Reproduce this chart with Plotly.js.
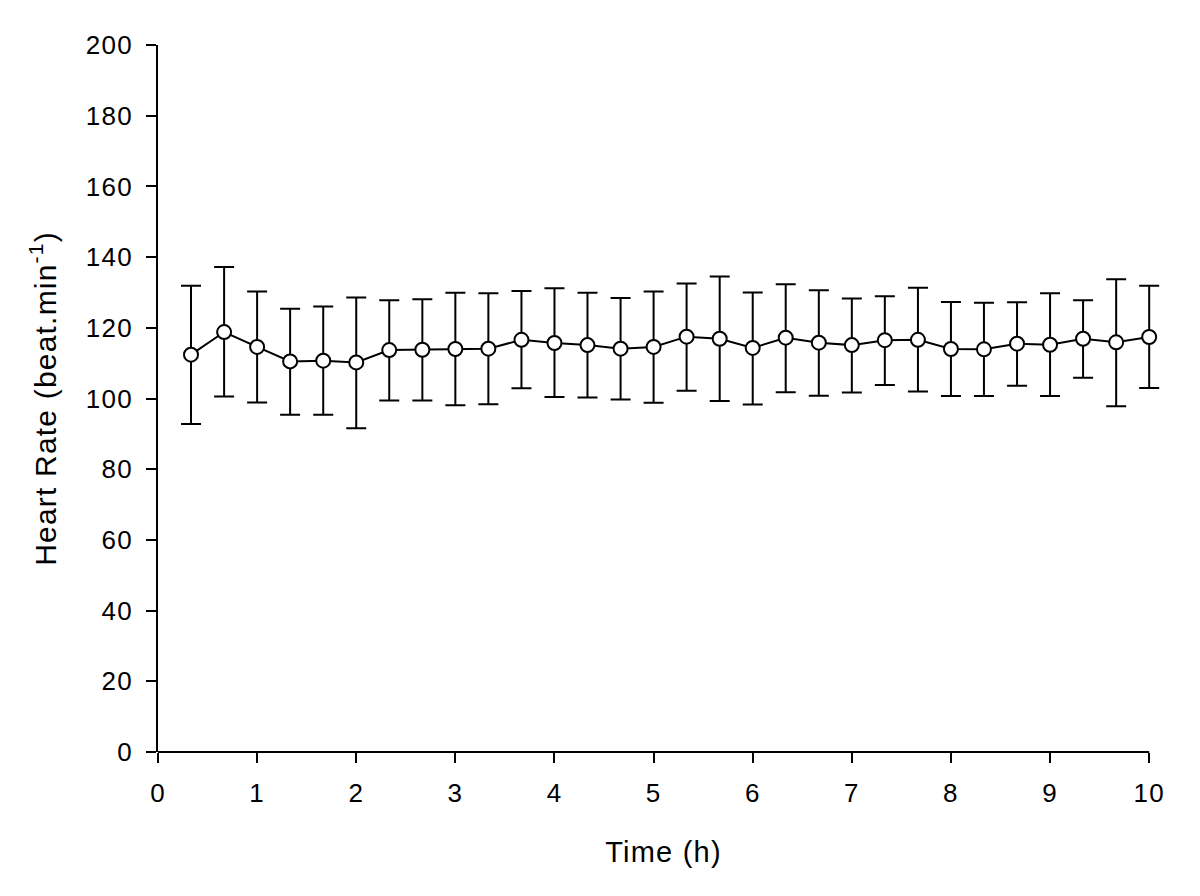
<!DOCTYPE html>
<html>
<head>
<meta charset="utf-8">
<script src="https://cdn.plot.ly/plotly-3.0.1.min.js"></script>
<style>
html,body{margin:0;padding:0;background:#fff;}
#chart{width:1200px;height:896px;}
#chart svg text{letter-spacing:1.2px;}
</style>
</head>
<body>
<div id="chart"></div>
<script>
const timeH = [0.333,0.667,1,1.333,1.667,2,2.333,2.667,3,3.333,3.667,4,4.333,4.667,5,5.333,5.667,6,6.333,6.667,7,7.333,7.667,8,8.333,8.667,9,9.333,9.667,10];
const heartRate = [112.4,118.8,114.6,110.5,110.7,110.2,113.7,113.8,114.0,114.1,116.6,115.7,115.1,114.1,114.6,117.5,116.9,114.3,117.2,115.8,115.1,116.5,116.6,114.0,113.9,115.5,115.2,116.9,115.9,117.4];
const upperBar = [131.9,137.2,130.3,125.4,126.0,128.6,127.8,128.1,129.9,129.8,130.4,131.2,129.9,128.4,130.3,132.5,134.5,130.0,132.3,130.6,128.3,128.9,131.3,127.3,127.1,127.2,129.8,127.8,133.7,131.9];
const lowerBar = [92.8,100.6,98.9,95.4,95.4,91.6,99.4,99.4,98.1,98.4,102.9,100.4,100.3,99.7,98.8,102.2,99.3,98.3,101.8,100.8,101.7,103.8,102.0,100.7,100.7,103.6,100.7,105.9,97.8,103.0];
const xTicks = [0,1,2,3,4,5,6,7,8,9,10];
const yTicks = [0,20,40,60,80,100,120,140,160,180,200];

const errPlus = upperBar.map((u,i)=>u-heartRate[i]);
const errMinus = lowerBar.map((l,i)=>heartRate[i]-l);

// axis shows 0..10; a little extra room on the right so the last error-bar cap is not clipped
const xMax = 10, xPad = 0.2;

const trace = {
  x: timeH, y: heartRate, type: 'scatter', mode: 'lines+markers',
  line: {color: '#000', width: 2},
  marker: {symbol: 'circle', size: 14, color: '#fff', line: {color: '#000', width: 2}},
  error_y: {type: 'data', symmetric: false, array: errPlus, arrayminus: errMinus,
            color: '#000', thickness: 2, width: 10},
  cliponaxis: false, showlegend: false
};

const fam = 'Liberation Sans, Arial, sans-serif';
const layout = {
  width: 1200, height: 896,
  margin: {l: 158, r: 31, t: 44.5, b: 144, pad: 0},
  paper_bgcolor: '#fff', plot_bgcolor: '#fff',
  font: {family: fam, color: '#000'},
  showlegend: false,
  xaxis: {
    range: [0, xMax + xPad], tickvals: xTicks, ticktext: xTicks.map(String),
    showgrid: false, zeroline: false, showline: false,
    ticks: 'outside', ticklen: 10, tickwidth: 2, tickcolor: '#000',
    ticklabelstandoff: 8,
    tickfont: {family: fam, size: 26, color: '#000'},
    title: {text: 'Time (h)', font: {family: fam, size: 29, color: '#000'}, standoff: 34},
    fixedrange: true
  },
  yaxis: {
    range: [0, 200], tickvals: yTicks, ticktext: yTicks.map(String),
    showgrid: false, zeroline: false, showline: true, linecolor: '#000', linewidth: 2,
    ticks: 'outside', ticklen: 10, tickwidth: 2, tickcolor: '#000',
    ticklabelstandoff: 8,
    tickfont: {family: fam, size: 26, color: '#000'},
    title: {text: 'Heart Rate (beat.min<sup>-1</sup>)', font: {family: fam, size: 30, color: '#000'}, standoff: 24},
    fixedrange: true
  },
  shapes: [{
    type: 'line', xref: 'x domain', yref: 'y domain',
    x0: 0, x1: xMax / (xMax + xPad), y0: 0, y1: 0,
    line: {color: '#000', width: 2}, layer: 'above'
  }]
};

Plotly.newPlot('chart', [trace], layout, {displayModeBar: false, staticPlot: true});
</script>
</body>
</html>
